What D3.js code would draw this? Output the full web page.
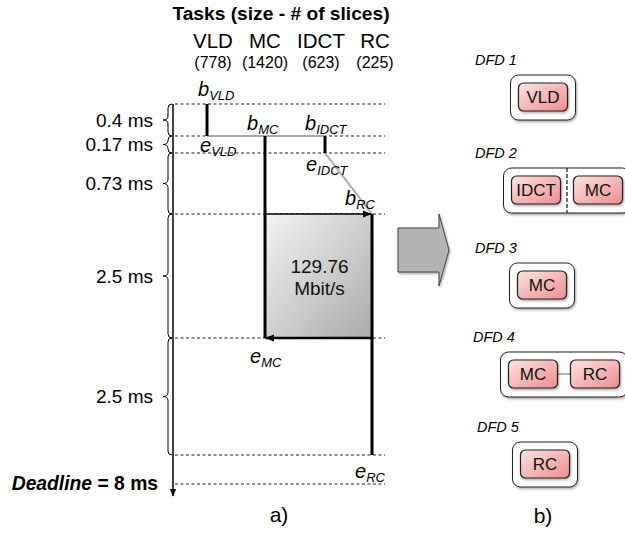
<!DOCTYPE html>
<html><head><meta charset="utf-8">
<script src="https://cdn.jsdelivr.net/npm/d3@7"></script>
<style>
html,body{margin:0;padding:0;background:#fff;}
text{font-family:"Liberation Sans",Arial,Helvetica,sans-serif;}
</style></head>
<body><svg id="c" width="625" height="533"></svg>
<script>
// ---------- data ----------
const tasks = ["VLD", "MC", "IDCT", "RC"];
const slices = [778, 1420, 623, 225];
const taskStart = [0, 0.4, 0.4, 1.3];      // ms
const taskEnd = [0.4, 3.8, 0.57, 6.3];      // ms
const timeBreaks = [0, 0.4, 0.57, 1.3, 3.8, 6.3, 8];
const intervalLabels = ["0.4 ms", "0.17 ms", "0.73 ms", "2.5 ms", "2.5 ms"];
const deps = [["VLD", "MC"], ["VLD", "IDCT"], ["IDCT", "RC"]];
const throughputLines = ["129.76", "Mbit/s"];
const dfdNames = ["DFD 1", "DFD 2", "DFD 3", "DFD 4", "DFD 5"];
const dfdTasks = [["VLD"], ["IDCT", "MC"], ["MC"], ["MC", "RC"], ["RC"]];
const dfdLinks = ["none", "dashed", "none", "solid", "none"];

// ---------- layout ----------
const svg = d3.select("#c");
const defs = svg.append("defs");
const y = d3.scaleLinear().domain(timeBreaks).range([104, 136, 153, 214, 338, 455, 484]);
const x = d3.scaleOrdinal().domain(tasks).range([207, 265, 325, 372]);
const hx = d3.scaleOrdinal().domain(tasks).range([213, 265, 321, 375]);
const axisX = 173, lineX0 = 175, lineX1 = 385;

// gradients / markers / filters
const gg = defs.append("linearGradient").attr("id", "gray").attr("x1", 0).attr("y1", 0).attr("x2", 1).attr("y2", 1);
gg.append("stop").attr("offset", "0%").attr("stop-color", "#f3f3f3");
gg.append("stop").attr("offset", "100%").attr("stop-color", "#ababab");
const pg = defs.append("linearGradient").attr("id", "pink").attr("x1", 0).attr("y1", 0).attr("x2", 1).attr("y2", 1);
pg.append("stop").attr("offset", "0%").attr("stop-color", "#fde3e3");
pg.append("stop").attr("offset", "100%").attr("stop-color", "#f08c8c");
const sh = defs.append("filter").attr("id", "shadow").attr("x", "-20%").attr("y", "-20%").attr("width", "150%").attr("height", "150%");
sh.append("feDropShadow").attr("dx", 1).attr("dy", 1.5).attr("stdDeviation", 1).attr("flood-color", "#000").attr("flood-opacity", 0.35);
function marker(id, size) {
  defs.append("marker").attr("id", id).attr("viewBox", "0 0 10 10").attr("refX", 9).attr("refY", 5)
    .attr("markerWidth", size).attr("markerHeight", size).attr("markerUnits", "userSpaceOnUse").attr("orient", "auto")
    .append("path").attr("d", "M0,1 L10,5 L0,9 Z").attr("fill", "#000");
}
marker("arr", 9);
marker("arrAxis", 8);

// ---------- header ----------
svg.append("text").attr("x", 281).attr("y", 20).attr("text-anchor", "middle")
  .attr("font-size", 19.2).attr("font-weight", "bold").text("Tasks (size - # of slices)");
svg.selectAll(".tname").data(tasks).join("text").attr("class", "tname")
  .attr("x", d => hx(d)).attr("y", 48).attr("text-anchor", "middle").attr("font-size", 20.5).text(d => d);
svg.selectAll(".tsize").data(slices).join("text").attr("class", "tsize")
  .attr("x", (d, i) => hx(tasks[i])).attr("y", 68).attr("text-anchor", "middle").attr("font-size", 16).text(d => "(" + d + ")");

// ---------- dashed time lines ----------
svg.selectAll(".tl").data(timeBreaks).join("line").attr("class", "tl")
  .attr("x1", lineX0).attr("x2", lineX1).attr("y1", d => y(d)).attr("y2", d => y(d))
  .attr("stroke", "#222").attr("stroke-width", 1).attr("stroke-dasharray", "3,2.5");

// ---------- time axis ----------
svg.append("line").attr("x1", axisX).attr("x2", axisX).attr("y1", y(0)).attr("y2", 496)
  .attr("stroke", "#000").attr("stroke-width", 1.5).attr("marker-end", "url(#arrAxis)");

// braces
function brace(y0, y1) {
  const xe = 172, xs = 168, xt = 163, r = 4, ym = (y0 + y1) / 2;
  return `M${xe},${y0} Q${xs},${y0} ${xs},${y0 + r} L${xs},${ym - r} Q${xs},${ym} ${xt},${ym}` +
         ` Q${xs},${ym} ${xs},${ym + r} L${xs},${y1 - r} Q${xs},${y1} ${xe},${y1}`;
}
const intervals = intervalLabels.map((l, i) => ({ label: l, t0: timeBreaks[i], t1: timeBreaks[i + 1] }));
svg.selectAll(".brace").data(intervals).join("path").attr("class", "brace")
  .attr("d", d => brace(y(d.t0), y(d.t1))).attr("fill", "none").attr("stroke", "#000").attr("stroke-width", 1);
svg.selectAll(".ilab").data(intervals).join("text").attr("class", "ilab")
  .attr("x", 153).attr("y", d => (y(d.t0) + y(d.t1)) / 2 + 6.5).attr("text-anchor", "end")
  .attr("font-size", 19).text(d => d.label);

const dl = svg.append("text").attr("x", 158).attr("y", y(8) + 6).attr("text-anchor", "end")
  .attr("font-size", 19.3).attr("font-weight", "bold");
dl.append("tspan").attr("font-style", "italic").text("Deadline");
dl.append("tspan").text(" = 8 ms");

// ---------- transfer region ----------
const iMC = tasks.indexOf("MC"), iRC = tasks.indexOf("RC");
svg.append("rect").attr("x", x("MC")).attr("y", y(taskStart[iRC]))
  .attr("width", x("RC") - x("MC")).attr("height", y(taskEnd[iMC]) - y(taskStart[iRC]))
  .attr("fill", "url(#gray)");
svg.selectAll(".thr").data(throughputLines).join("text").attr("class", "thr")
  .attr("x", (x("MC") + x("RC")) / 2 + 1)
  .attr("y", (d, i) => (y(taskStart[iRC]) + y(taskEnd[iMC])) / 2 - 3 + i * 22)
  .attr("text-anchor", "middle").attr("font-size", 19).attr("fill", "#111").text(d => d);

// ---------- dependency lines ----------
svg.selectAll(".dep").data(deps).join("line").attr("class", "dep")
  .attr("x1", d => x(d[0])).attr("y1", d => y(taskEnd[tasks.indexOf(d[0])]))
  .attr("x2", d => x(d[1])).attr("y2", d => y(taskStart[tasks.indexOf(d[1])]))
  .attr("stroke", "#aaa").attr("stroke-width", 2);

// ---------- task bars ----------
svg.selectAll(".bar").data(tasks).join("line").attr("class", "bar")
  .attr("x1", d => x(d)).attr("x2", d => x(d))
  .attr("y1", (d, i) => y(taskStart[i])).attr("y2", (d, i) => y(taskEnd[i]))
  .attr("stroke", "#000").attr("stroke-width", 3);

// transfer arrows
svg.append("line").attr("x1", x("MC")).attr("x2", x("RC") - 1).attr("y1", y(taskStart[iRC])).attr("y2", y(taskStart[iRC]))
  .attr("stroke", "#000").attr("stroke-width", 1.5).attr("marker-end", "url(#arr)");
svg.append("line").attr("x1", x("RC")).attr("x2", x("MC") + 1).attr("y1", y(taskEnd[iMC])).attr("y2", y(taskEnd[iMC]))
  .attr("stroke", "#000").attr("stroke-width", 2.5).attr("marker-end", "url(#arr)");

// ---------- b / e labels ----------
const bOff = { VLD: [-9, -8], MC: [-18, -6], IDCT: [-20, -6], RC: [-27, -9] };
const eOff = { VLD: [-7, 16], MC: [-15, 25], IDCT: [-19, 18], RC: [-17, 23] };
const evLabels = [];
tasks.forEach((t, i) => {
  evLabels.push({ p: "b", t, px: x(t) + bOff[t][0], py: y(taskStart[i]) + bOff[t][1] });
  evLabels.push({ p: "e", t, px: x(t) + eOff[t][0], py: y(taskEnd[i]) + eOff[t][1] });
});
const ev = svg.selectAll(".ev").data(evLabels).join("text").attr("class", "ev")
  .attr("x", d => d.px).attr("y", d => d.py).attr("font-style", "italic");
ev.append("tspan").attr("font-size", 20).text(d => d.p);
ev.append("tspan").attr("font-size", 13).attr("dy", 4).text(d => d.t);

svg.append("text").attr("x", 279).attr("y", 522).attr("text-anchor", "middle").attr("font-size", 21).text("a)");

// ---------- big arrow ----------
svg.append("path").attr("d", "M398,228 L439,228 L439,214 L449,250 L439,286 L439,272 L398,272 Z")
  .attr("fill", "#b3b3b3").attr("stroke", "#444").attr("stroke-width", 1).attr("filter", "url(#shadow)");

// ---------- DFDs ----------
const dfdCx = [543, 567, 542, 564, 545];
const dfdTop = [75, 168, 263, 352, 442];
const dfdLabX = [475, 475, 475, 473, 477];
const bw = 49, bh = 28, gap = 13, pad = 8, outerH = 45;
dfdNames.forEach((name, k) => {
  const g = svg.append("g");
  g.append("text").attr("x", dfdLabX[k]).attr("y", dfdTop[k] - 10).attr("font-size", 14.5)
    .attr("font-style", "italic").text(name);
  const n = dfdTasks[k].length;
  const innerW = n * bw + (n - 1) * gap;
  const ox = dfdCx[k] - innerW / 2 - pad;
  g.append("rect").attr("x", ox).attr("y", dfdTop[k]).attr("width", innerW + 2 * pad).attr("height", outerH)
    .attr("rx", 8).attr("fill", "#fff").attr("stroke", "#222").attr("stroke-width", 1).attr("filter", "url(#shadow)");
  const bx = (j) => ox + pad + j * (bw + gap);
  if (dfdLinks[k] === "dashed") {
    g.append("line").attr("x1", bx(1) - gap / 2).attr("x2", bx(1) - gap / 2)
      .attr("y1", dfdTop[k]).attr("y2", dfdTop[k] + outerH)
      .attr("stroke", "#111").attr("stroke-width", 1.2).attr("stroke-dasharray", "4,2");
  } else if (dfdLinks[k] === "solid") {
    g.append("line").attr("x1", bx(0) + bw).attr("x2", bx(1))
      .attr("y1", dfdTop[k] + 8 + bh / 2).attr("y2", dfdTop[k] + 8 + bh / 2)
      .attr("stroke", "#666").attr("stroke-width", 1);
  }
  dfdTasks[k].forEach((t, j) => {
    g.append("rect").attr("x", bx(j)).attr("y", dfdTop[k] + 8).attr("width", bw).attr("height", bh)
      .attr("rx", 5).attr("fill", "url(#pink)").attr("stroke", "#222").attr("stroke-width", 1.2)
      .attr("filter", "url(#shadow)");
    g.append("text").attr("x", bx(j) + bw / 2).attr("y", dfdTop[k] + 8 + bh / 2 + 6)
      .attr("text-anchor", "middle").attr("font-size", 17).attr("fill", "#111").text(t);
  });
});
svg.append("text").attr("x", 543).attr("y", 523).attr("text-anchor", "middle").attr("font-size", 21).text("b)");
</script></body></html>
